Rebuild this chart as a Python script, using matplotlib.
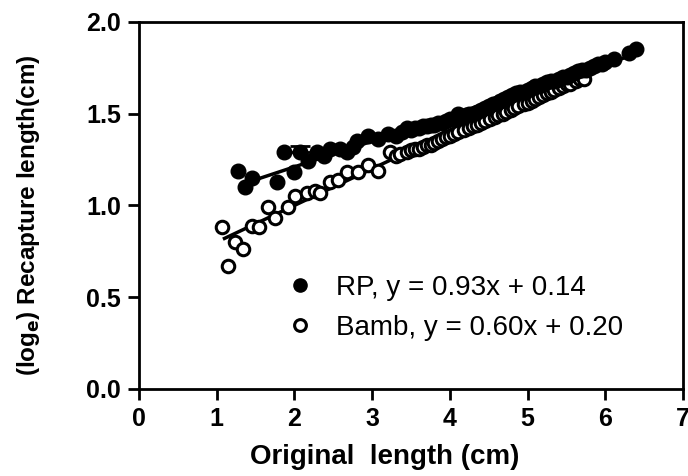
import matplotlib.pyplot as plt
from matplotlib.lines import Line2D

plt.rcParams['font.family'] = ['Liberation Sans', 'DejaVu Sans']

# RP (filled circles)
rp_x = [1.28, 1.37, 1.45, 1.78, 1.86, 2.0, 2.07, 2.18, 2.29, 2.38, 2.46, 2.59, 2.68,
        2.75, 2.81, 2.95, 3.07, 3.2, 3.3, 3.38, 3.45, 3.5, 3.55, 3.6, 3.65, 3.7,
        3.75, 3.8, 3.85, 3.9, 3.95, 4.0, 4.05, 4.1, 4.15, 4.2, 4.25, 4.3, 4.35,
        4.4, 4.45, 4.5, 4.55, 4.6, 4.65, 4.7, 4.75, 4.8, 4.85, 4.9, 4.95, 5.0,
        5.05, 5.1, 5.15, 5.2, 5.25, 5.3, 5.35, 5.4, 5.45, 5.5, 5.55, 5.6, 5.65,
        5.7, 5.75, 5.8, 5.85, 5.9, 5.95, 6.0, 6.11, 6.3, 6.39]
rp_y = [1.19, 1.10, 1.15, 1.13, 1.29, 1.18, 1.29, 1.24, 1.29, 1.27, 1.31, 1.31, 1.29,
        1.32, 1.35, 1.38, 1.36, 1.39, 1.38, 1.40, 1.42, 1.41, 1.42, 1.42, 1.43, 1.43,
        1.44, 1.44, 1.45, 1.45, 1.46, 1.47, 1.47, 1.50, 1.48, 1.49, 1.50, 1.50, 1.51,
        1.52, 1.53, 1.54, 1.55, 1.56, 1.57, 1.58, 1.59, 1.60, 1.61, 1.62, 1.62, 1.63,
        1.64, 1.65, 1.65, 1.66, 1.67, 1.68, 1.68, 1.69, 1.70, 1.70, 1.71, 1.72, 1.73,
        1.74, 1.74, 1.75, 1.76, 1.77, 1.77, 1.78, 1.80, 1.83, 1.85]

# Bamb (open circles)
bamb_x = [1.07, 1.15, 1.24, 1.34, 1.45, 1.54, 1.66, 1.75, 1.92, 2.01, 2.16,
          2.27, 2.33, 2.46, 2.56, 2.68, 2.82, 2.95, 3.08, 3.23, 3.3, 3.36, 3.45,
          3.5, 3.55, 3.6, 3.65, 3.7, 3.75, 3.8, 3.85, 3.9, 3.95, 4.0, 4.05, 4.1,
          4.18, 4.25, 4.3, 4.35, 4.4, 4.45, 4.52, 4.58, 4.62, 4.68, 4.72, 4.78,
          4.82, 4.88, 4.95, 5.0, 5.05, 5.1, 5.15, 5.2, 5.25, 5.3, 5.34, 5.4,
          5.45, 5.5, 5.55, 5.62, 5.67, 5.72]
bamb_y = [0.88, 0.67, 0.80, 0.76, 0.89, 0.88, 0.99, 0.93, 0.99, 1.05, 1.07,
          1.08, 1.07, 1.13, 1.14, 1.18, 1.18, 1.22, 1.19, 1.29, 1.27, 1.28, 1.29,
          1.30, 1.31, 1.31, 1.32, 1.33, 1.33, 1.34, 1.35, 1.36, 1.37, 1.38, 1.39, 1.40,
          1.41, 1.42, 1.43, 1.44, 1.45, 1.46, 1.47, 1.48, 1.49, 1.50, 1.51, 1.52,
          1.53, 1.54, 1.55, 1.56, 1.57, 1.58, 1.59, 1.60, 1.61, 1.62, 1.63, 1.64,
          1.65, 1.66, 1.66, 1.68, 1.69, 1.69]

# fitted lines (y = slope*x + intercept)
rp_fit = (0.14, 0.93)
bamb_fit = (0.20, 0.60)
rp_range = [1.35, 6.4]
bamb_range = [1.1, 5.8]

# single error bar visible on RP
err_x, err_y, err_up = 2.07, 1.29, 0.035

fig = plt.figure(figsize=(6.88, 4.76), dpi=100)
ax = fig.add_axes([0.202, 0.183, 0.791, 0.771])

ax.plot(rp_range, [rp_fit[0] * v + rp_fit[1] for v in rp_range], color='black', lw=2.5, zorder=2)
ax.plot(bamb_range, [bamb_fit[0] * v + bamb_fit[1] for v in bamb_range], color='black', lw=2.5, zorder=2)

ax.plot(bamb_x, bamb_y, 'o', ms=9, mfc='white', mec='black', mew=2.2, zorder=3)
ax.plot(rp_x, rp_y, 'o', ms=10.5, color='black', zorder=4)
ax.errorbar([err_x], [err_y], yerr=[[0], [err_up]], fmt='none', ecolor='black',
            elinewidth=2, capsize=7, capthick=2, zorder=2)

ax.set_xlim(0, 7)
ax.set_ylim(0, 2.0)
ax.set_xticks(range(0, 8))
ax.set_yticks([0.0, 0.5, 1.0, 1.5, 2.0])
ax.set_yticklabels(['0.0', '0.5', '1.0', '1.5', '2.0'])

for s in ax.spines.values():
    s.set_linewidth(2)
ax.tick_params(direction='out', length=8, width=2, labelsize=18, pad=5)
for lab in ax.get_xticklabels() + ax.get_yticklabels():
    lab.set_fontweight('bold')

ax.set_xlabel('Original  length (cm)', fontsize=20, fontweight='bold')
ax.xaxis.set_label_coords(0.452, -0.15)
ax.set_ylabel('(log$_\\mathbf{e}$) Recapture length(cm)', fontsize=17.5, fontweight='bold')
ax.yaxis.set_label_coords(-0.178, 0.474)

handles = [
    Line2D([], [], ls='none', marker='o', ms=9.5, color='black'),
    Line2D([], [], ls='none', marker='o', ms=8.5, mfc='white', mec='black', mew=2.2),
]
ax.legend(handles, ['RP, y = 0.93x + 0.14', 'Bamb, y = 0.60x + 0.20'],
          loc='center left', bbox_to_anchor=(0.27, 0.22), frameon=False,
          fontsize=20, handletextpad=0.8, labelspacing=0.5, handlelength=1.0,
          borderpad=0, borderaxespad=0)

fig.savefig('out.png', dpi=100)
